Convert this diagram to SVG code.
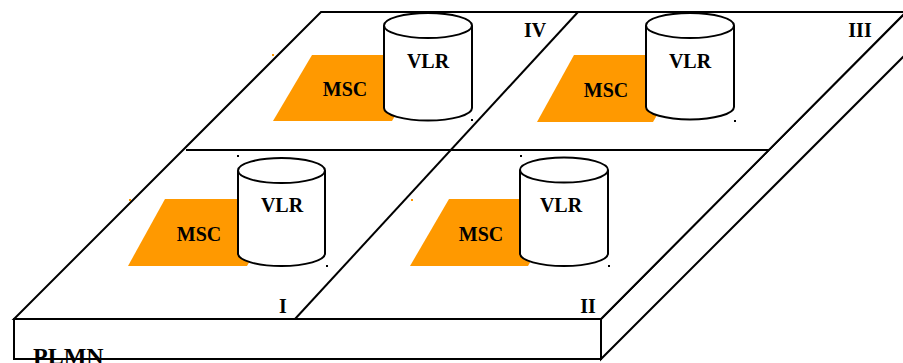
<svg xmlns="http://www.w3.org/2000/svg" width="903" height="363" viewBox="0 0 903 363">
  <style>
    .edge { fill: #fff; stroke: #000; stroke-width: 2; stroke-linejoin: miter; }
    .line { fill: none; stroke: #000; stroke-width: 2; }
    .msc { fill: #ff9900; stroke: none; }
    .can { fill: #fff; stroke: #000; stroke-width: 2; }
    .lbl { font-family: "Liberation Serif", "Times New Roman", serif; font-weight: bold; font-size: 20px; fill: #000; }
    .num { font-family: "Liberation Serif", "Times New Roman", serif; font-weight: bold; font-size: 20px; fill: #000; }
    .dot { fill: #000; }
    .odot { fill: #ff9900; }
  </style>
  <rect width="903" height="363" fill="#fff"/>

  <!-- PLMN slab: top face, front face and right side face -->
  <g id="plmn">
    <polygon class="edge" points="601,319 906,12 906,54 601,359"/>
    <rect class="edge" x="14" y="319" width="587" height="40"/>
    <polygon class="edge" points="321,12 906,12 601,319 14,319"/>
    <text class="lbl" x="33" y="364" style="font-size:24px">PLMN</text>
  </g>

  <!-- area boundaries on the top face -->
  <g id="boundaries">
    <line class="line" x1="186" y1="150" x2="769" y2="150"/>
    <line class="line" x1="578" y1="12" x2="295" y2="319"/>
  </g>

  <!-- area I -->
  <g id="area-I">
    <g id="msc-I">
      <polygon class="msc" points="165,199 285,199 247,266 128,266"/>
      <rect class="odot" x="129" y="199" width="2" height="2"/>
      <text class="lbl" x="199" y="241" text-anchor="middle">MSC</text>
    </g>
    <g id="vlr-I">
      <path class="can" d="M238,170.5 L238,253.5 A43.5,12.5 0 0 0 325,253.5 L325,170.5"/>
      <ellipse class="can" cx="281.5" cy="170.5" rx="43.5" ry="12.5"/>
      <text class="lbl" x="282" y="212" text-anchor="middle">VLR</text>
      <rect class="dot" x="237" y="155" width="2" height="2"/>
      <rect class="dot" x="326" y="265" width="2" height="2"/>
    </g>
    <text class="num" x="283" y="313" text-anchor="middle">I</text>
  </g>

  <!-- area II -->
  <g id="area-II">
    <g id="msc-II">
      <polygon class="msc" points="449,199 566,199 528,266 410,266"/>
      <rect class="odot" x="411" y="199" width="2" height="2"/>
      <text class="lbl" x="481" y="241" text-anchor="middle">MSC</text>
    </g>
    <g id="vlr-II">
      <path class="can" d="M520,170 L520,253.5 A44,12.5 0 0 0 608,253.5 L608,170"/>
      <ellipse class="can" cx="564" cy="170" rx="44" ry="12.5"/>
      <text class="lbl" x="561" y="212" text-anchor="middle">VLR</text>
      <rect class="dot" x="520" y="155" width="2" height="2"/>
      <rect class="dot" x="608" y="265" width="2" height="2"/>
    </g>
    <text class="num" x="588" y="313" text-anchor="middle">II</text>
  </g>

  <!-- area III -->
  <g id="area-III">
    <g id="msc-III">
      <polygon class="msc" points="574,55 692,55 653,122 537,122"/>
      <text class="lbl" x="606" y="97" text-anchor="middle">MSC</text>
    </g>
    <g id="vlr-III">
      <path class="can" d="M646,25.5 L646,107 A44,12.5 0 0 0 734,107 L734,25.5"/>
      <ellipse class="can" cx="690" cy="25.5" rx="44" ry="12.5"/>
      <text class="lbl" x="690" y="68" text-anchor="middle">VLR</text>
      <rect class="dot" x="734" y="120" width="2" height="2"/>
    </g>
    <text class="num" x="860" y="37" text-anchor="middle">III</text>
  </g>

  <!-- area IV -->
  <g id="area-IV">
    <g id="msc-IV">
      <polygon class="msc" points="312,55 431,55 392,121 273,121"/>
      <rect class="odot" x="272" y="54" width="2" height="2"/>
      <text class="lbl" x="345" y="96" text-anchor="middle">MSC</text>
    </g>
    <g id="vlr-IV">
      <path class="can" d="M384,25.5 L384,108 A44,12.5 0 0 0 472,108 L472,25.5"/>
      <ellipse class="can" cx="428" cy="25.5" rx="44" ry="12.5"/>
      <text class="lbl" x="428" y="68" text-anchor="middle">VLR</text>
      <rect class="dot" x="471" y="119" width="2" height="2"/>
    </g>
    <text class="num" x="535" y="37" text-anchor="middle">IV</text>
  </g>
</svg>
